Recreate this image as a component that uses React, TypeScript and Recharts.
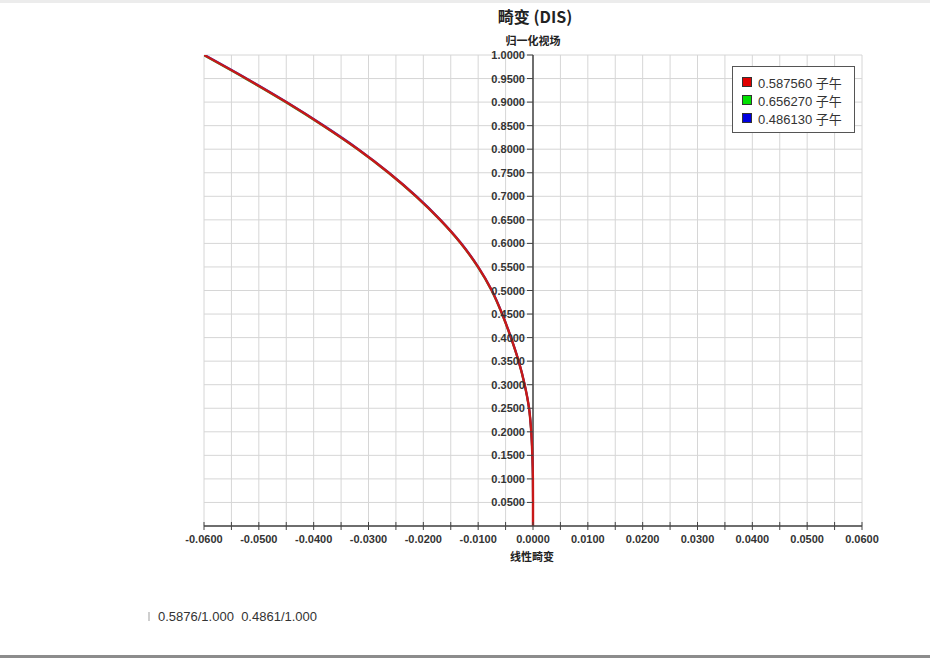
import React from 'react';
import { LineChart, Line, XAxis, YAxis, CartesianGrid, ReferenceLine, Legend } from 'recharts';

// Normalised field (y) values
const FIELD = [0, 0.05, 0.1, 0.15, 0.2, 0.25, 0.3, 0.35, 0.4, 0.45, 0.5, 0.55, 0.6, 0.65, 0.7, 0.75, 0.8, 0.85, 0.9, 0.95, 1.0];

// Linear distortion (x) per wavelength series
const DIS_587560 = [0, 0, -0.00002, -0.00012, -0.00032, -0.00072, -0.00152, -0.00262, -0.00402, -0.00562, -0.00752, -0.01002, -0.01312, -0.01692, -0.02132, -0.02632, -0.03192, -0.03822, -0.04502, -0.05232, -0.06];
const DIS_656270 = [0, 0, -0.00002, -0.00012, -0.00032, -0.00073, -0.00154, -0.00264, -0.00405, -0.00566, -0.00757, -0.01008, -0.01319, -0.01700, -0.02141, -0.02642, -0.03203, -0.03834, -0.04515, -0.05246, -0.06015];
const DIS_486130 = [0, 0, -0.00002, -0.00012, -0.00032, -0.00071, -0.0015, -0.0026, -0.00399, -0.00558, -0.00747, -0.00996, -0.01305, -0.01684, -0.02123, -0.02622, -0.03181, -0.0381, -0.04489, -0.05218, -0.05985];

const SERIES_NAMES = ['0.587560 子午', '0.656270 子午', '0.486130 子午'];
const SERIES_COLORS = ['#e00000', '#00e000', '#0000e0'];
const LINE_COLORS = ['#c81818', '#30b030', '#3030d0'];

const X_TICKS = [-0.06, -0.055, -0.05, -0.045, -0.04, -0.035, -0.03, -0.025, -0.02, -0.015, -0.01, -0.005, 0, 0.005, 0.01, 0.015, 0.02, 0.025, 0.03, 0.035, 0.04, 0.045, 0.05, 0.055, 0.06];
const Y_TICKS = [0, 0.05, 0.1, 0.15, 0.2, 0.25, 0.3, 0.35, 0.4, 0.45, 0.5, 0.55, 0.6, 0.65, 0.7, 0.75, 0.8, 0.85, 0.9, 0.95, 1.0];

const TITLE = '畸变 (DIS)';
const Y_TITLE = '归一化视场';
const X_TITLE = '线性畸变';
const FOOTER = '0.5876/1.000  0.4861/1.000';

const W = 930;
const H = 658;
const PLOT_L = 204;
const PLOT_R = 862;
const PLOT_T = 55;
const PLOT_B = 526;
const XAXIS_H = 30;
const YAXIS_W = 60;
const ZERO_X = (PLOT_L + PLOT_R) / 2;

const LATIN = '"Liberation Sans", Arial, "Noto Sans CJK SC", sans-serif';
const CJK = '"Noto Sans CJK SC", "Liberation Sans", sans-serif';

const toPoints = (xs: number[]) => FIELD.map((y, i) => ({ x: xs[i], y }));
const redData = toPoints(DIS_587560);
const greenData = toPoints(DIS_656270);
const blueData = toPoints(DIS_486130);

const XTick = (props: any) => {
  const { x, y, payload } = props;
  const v = payload.value as number;
  const major = Math.round(Math.abs(v) * 1000) % 10 === 0;
  return (
    <g>
      <line x1={x} x2={x} y1={y - 4} y2={y + 4} stroke="#444" strokeWidth={1} />
      {major && (
        <text x={x} y={y + 17} textAnchor="middle" fontFamily={LATIN} fontWeight="bold" fontSize={11} fill="#333">
          {v.toFixed(4)}
        </text>
      )}
    </g>
  );
};

const YTick = (props: any) => {
  const { y, payload } = props;
  const v = payload.value as number;
  if (v === 0) return <g />;
  return (
    <g>
      <line x1={ZERO_X - 6} x2={ZERO_X} y1={y} y2={y} stroke="#444" strokeWidth={1} />
      <text x={ZERO_X - 8} y={y + 4} textAnchor="end" fontFamily={LATIN} fontWeight="bold" fontSize={11} fill="#333">
        {v.toFixed(4)}
      </text>
    </g>
  );
};

const LegendBox = () => (
  <div
    style={{
      width: 123,
      height: 67,
      border: '1px solid #555',
      background: '#fff',
      boxSizing: 'border-box',
      fontFamily: LATIN,
      fontSize: 13,
      color: '#333',
      paddingTop: 6,
    }}
  >
    {SERIES_NAMES.map((n, i) => (
      <div key={n} style={{ display: 'flex', alignItems: 'center', height: 18, paddingLeft: 9 }}>
        <span
          style={{
            display: 'inline-block',
            width: 8,
            height: 8,
            background: SERIES_COLORS[i],
            border: '1px solid #333',
            marginRight: 6,
          }}
        />
        <span style={{ whiteSpace: 'pre' }}>{n}</span>
      </div>
    ))}
  </div>
);

export default function App() {
  return (
    <div style={{ position: 'absolute', left: 0, top: 0, width: W, height: H, background: '#fff', overflow: 'hidden' }}>
      <div style={{ position: 'absolute', left: 0, top: 0, width: W, height: 3, background: '#ececec' }} />
      <LineChart
        width={W}
        height={H}
        margin={{ top: PLOT_T, right: W - PLOT_R, bottom: H - PLOT_B - XAXIS_H, left: PLOT_L - YAXIS_W }}
      >
        <CartesianGrid stroke="#d6d6d6" strokeWidth={1} />
        <XAxis
          type="number"
          dataKey="x"
          domain={[-0.06, 0.06]}
          ticks={X_TICKS}
          allowDataOverflow
          height={XAXIS_H}
          tickSize={0}
          tickMargin={0}
          tickLine={false}
          axisLine={{ stroke: '#444', strokeWidth: 1.5 }}
          tick={<XTick />}
          interval={0}
        />
        <YAxis
          type="number"
          dataKey="y"
          domain={[0, 1]}
          ticks={Y_TICKS}
          allowDataOverflow
          width={YAXIS_W}
          tickLine={false}
          axisLine={false}
          tick={<YTick />}
          interval={0}
        />
        <ReferenceLine x={0} stroke="#444" strokeWidth={1.5} ifOverflow="visible" />
        <Legend
          layout="vertical"
          align="center"
          verticalAlign="middle"
          wrapperStyle={{ left: 732, top: 66, width: 123, height: 67 }}
          content={() => <LegendBox />}
        />
        <Line data={greenData} dataKey="y" name={SERIES_NAMES[1]} type="monotoneY" stroke={LINE_COLORS[1]} strokeWidth={2} dot={false} isAnimationActive={false} />
        <Line data={blueData} dataKey="y" name={SERIES_NAMES[2]} type="monotoneY" stroke={LINE_COLORS[2]} strokeWidth={2} dot={false} isAnimationActive={false} />
        <Line data={redData} dataKey="y" name={SERIES_NAMES[0]} type="monotoneY" stroke={LINE_COLORS[0]} strokeWidth={2.4} dot={false} isAnimationActive={false} />
      </LineChart>
      <div style={{ position: 'absolute', left: 535, top: 6, transform: 'translateX(-50%)', fontFamily: CJK, fontWeight: 'bold', fontSize: 16, color: '#222', whiteSpace: 'nowrap', lineHeight: '20px' }}>
        {TITLE}
      </div>
      <div style={{ position: 'absolute', left: 533, top: 32, transform: 'translateX(-50%)', fontFamily: CJK, fontWeight: 'bold', fontSize: 11, color: '#222', whiteSpace: 'nowrap', lineHeight: '16px' }}>
        {Y_TITLE}
      </div>
      <div style={{ position: 'absolute', left: 532, top: 548, transform: 'translateX(-50%)', fontFamily: CJK, fontWeight: 'bold', fontSize: 11, color: '#222', whiteSpace: 'nowrap', lineHeight: '16px' }}>
        {X_TITLE}
      </div>
      <div style={{ position: 'absolute', left: 148, top: 612, width: 1.5, height: 9, background: '#cfcfcf' }} />
      <div style={{ position: 'absolute', left: 158, top: 609, fontFamily: LATIN, fontSize: 13, color: '#333', whiteSpace: 'pre', lineHeight: '16px' }}>
        {FOOTER}
      </div>
      <div style={{ position: 'absolute', left: 0, top: 655, width: W, height: 3, background: '#8c8c8c' }} />
    </div>
  );
}
